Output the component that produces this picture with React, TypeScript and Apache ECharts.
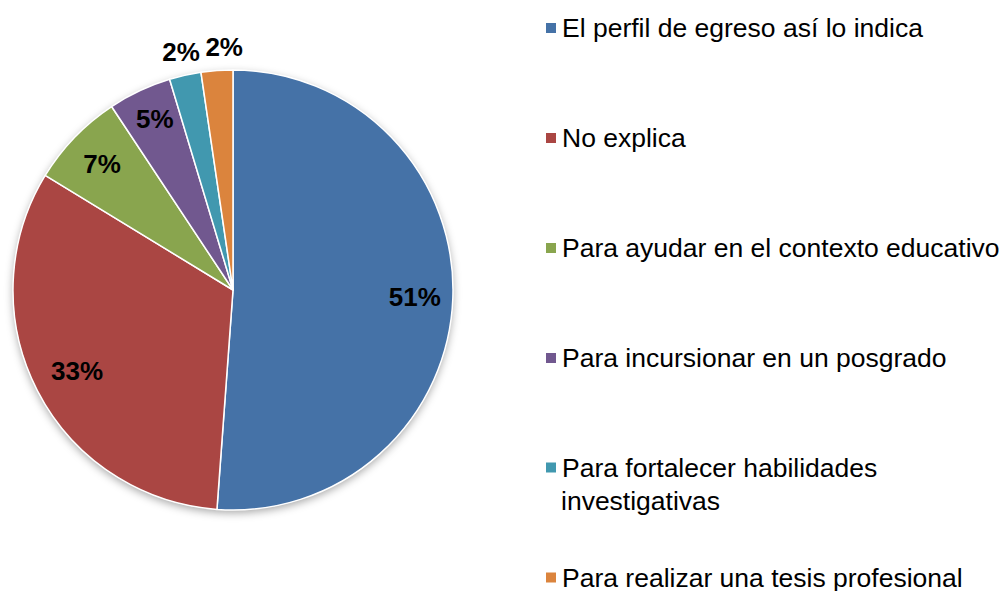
import React, { useEffect, useRef } from "react";
import * as echarts from "echarts";

const categories = [
  "El perfil de egreso así lo indica",
  "No explica",
  "Para ayudar en el contexto educativo",
  "Para incursionar en un posgrado",
  "Para fortalecer habilidades investigativas",
  "Para realizar una tesis profesional",
];
const counts = [22, 14, 3, 2, 1, 1];
const colors = ["#4572A7", "#AA4643", "#89A54E", "#71588F", "#4198AF", "#DB843D"];
const legendCenters = [27.5, 137.5, 247.5, 357.5, 467, 577];
const innerLabelIdx = [0, 1, 2, 3];
const wrappedFirst = "Para fortalecer habilidades";
const wrappedSecond = "investigativas";

const FONT = "'Liberation Sans', Arial, sans-serif";

export default function App() {
  const ref = useRef<HTMLDivElement>(null);
  useEffect(() => {
    document.body.style.margin = "0";
    const chart = echarts.init(ref.current!, null, { renderer: "svg" });
    const total = counts.reduce((a, b) => a + b, 0);
    const pct = (v: number) => Math.round((v / total) * 100) + "%";
    const center = [233, 290];
    const R = 220;
    const lh = 26;
    const fs = 26.5;

    const legends = categories.map((name, i) => ({
      data: [name],
      orient: "vertical",
      left: 544,
      top: legendCenters[i] - lh / 2,
      padding: 0,
      itemWidth: 12,
      itemHeight: 12,
      icon: "rect",
      selectedMode: false,
      formatter: i === 4 ? () => wrappedFirst : undefined,
      textStyle: {
        fontFamily: FONT,
        fontSize: fs,
        color: "#000",
        lineHeight: lh,
      },
    }));

    const baseData = categories.map((name, i) => ({
      name,
      value: counts[i],
      itemStyle: { color: colors[i] },
    }));

    const labelStyle = {
      show: true,
      position: "inside",
      fontFamily: FONT,
      fontSize: 26,
      fontWeight: "bold",
      color: "#000",
    };

    chart.setOption({
      animation: false,
      legend: legends,
      graphic: [
        {
          type: "text",
          left: 561,
          top: legendCenters[4] + 33 - lh / 2,
          style: {
            text: wrappedSecond,
            fontFamily: FONT,
            fontSize: fs,
            lineHeight: lh,
            fill: "#000",
          },
        },
      ],
      series: [
        {
          type: "pie",
          center,
          radius: R,
          silent: true,
          label: { show: false },
          labelLine: { show: false },
          itemStyle: {
            color: "#fff",
            shadowBlur: 8,
            shadowOffsetY: 3,
            shadowColor: "rgba(0,0,0,0.35)",
          },
          data: [{ name: "__bg", value: 1 }],
          z: 1,
        },
        {
          type: "pie",
          center,
          radius: R,
          startAngle: 90,
          clockwise: true,
          label: { show: false },
          labelLine: { show: false },
          itemStyle: { borderColor: "#fff", borderWidth: 1.5 },
          emphasis: { disabled: true },
          data: baseData,
          z: 2,
        },
        {
          type: "pie",
          center,
          radius: [138, R],
          silent: true,
          startAngle: 90,
          itemStyle: { color: "transparent" },
          labelLine: { show: false },
          label: labelStyle,
          data: categories.map((name, i) => ({
            name,
            value: counts[i],
            label: {
              show: innerLabelIdx.includes(i),
              formatter: pct(counts[i]),
              offset: i === 1 ? [6, -2] : i === 3 ? [-1, -6] : [0, 0],
            },
          })),
          z: 3,
        },
        {
          type: "pie",
          center,
          radius: [R, 262],
          silent: true,
          startAngle: 90,
          itemStyle: { color: "transparent" },
          labelLine: { show: false },
          label: labelStyle,
          data: categories.map((name, i) => ({
            name,
            value: counts[i],
            label: {
              show: !innerLabelIdx.includes(i),
              formatter: pct(counts[i]),
              offset: i === 5 ? [9, 0] : [1, 0],
            },
          })),
          z: 3,
        },
      ],
    });
    return () => chart.dispose();
  }, []);
  return <div ref={ref} style={{ width: 1004, height: 591 }} />;
}
